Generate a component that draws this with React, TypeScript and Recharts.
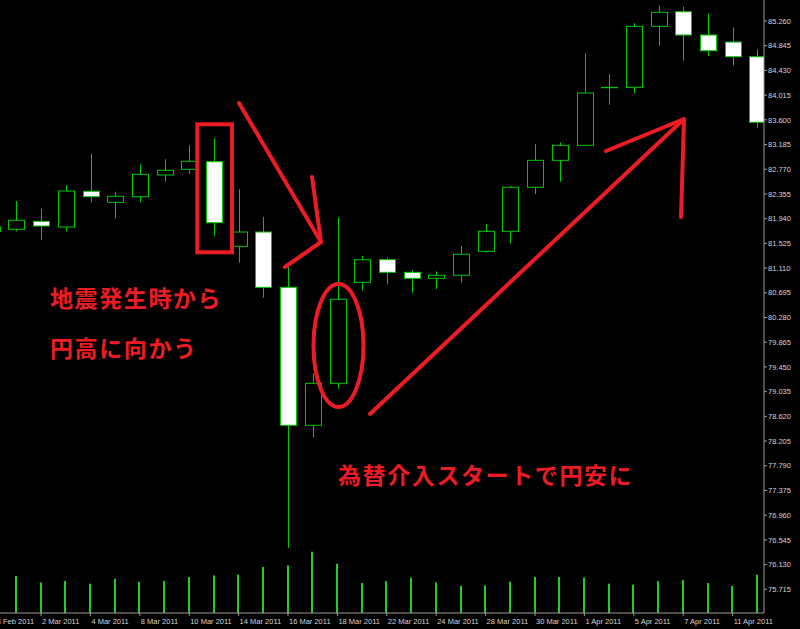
import { ComposedChart, Bar, XAxis, YAxis } from 'recharts';

// USD/JPY daily, 28 Feb 2011 - 12 Apr 2011 (MT4 style)
const dates = [
  '28 Feb 2011', '1 Mar 2011', '2 Mar 2011', '3 Mar 2011', '4 Mar 2011', '7 Mar 2011', '8 Mar 2011',
  '9 Mar 2011', '10 Mar 2011', '11 Mar 2011', '14 Mar 2011', '15 Mar 2011', '16 Mar 2011', '17 Mar 2011',
  '18 Mar 2011', '21 Mar 2011', '22 Mar 2011', '23 Mar 2011', '24 Mar 2011', '25 Mar 2011', '28 Mar 2011',
  '29 Mar 2011', '30 Mar 2011', '31 Mar 2011', '1 Apr 2011', '4 Apr 2011', '5 Apr 2011', '6 Apr 2011',
  '7 Apr 2011', '8 Apr 2011', '11 Apr 2011', '12 Apr 2011',
];
const opens = [
  81.73, 81.762, 81.896, 81.8, 82.4, 82.215, 82.309, 82.673, 82.769, 82.897, 81.476, 81.716, 80.787,
  78.47, 79.175, 80.871, 81.251, 81.039, 80.938, 80.989, 81.392, 81.728, 82.467, 82.92, 83.172, 84.14,
  84.146, 85.171, 85.416, 85.025, 84.907, 84.66,
];
const highs = [
  81.9, 82.237, 82.107, 82.506, 83.031, 82.393, 82.853, 82.937, 83.172, 83.29, 82.433, 81.968, 81.128,
  79.343, 81.963, 81.313, 81.291, 81.073, 81.056, 81.481, 81.851, 82.489, 83.194, 83.223, 84.718, 84.37,
  85.226, 85.524, 85.5, 85.389, 85.154, 84.785,
];
const lows = [
  81.6, 81.728, 81.582, 81.728, 82.208, 81.94, 82.208, 82.561, 82.695, 81.649, 81.201, 80.613, 76.409,
  78.268, 79.084, 80.73, 80.838, 80.697, 80.759, 80.865, 81.368, 81.526, 82.354, 82.561, 83.165, 83.854,
  84.046, 84.845, 84.593, 84.672, 84.516, 83.468,
];
const closes = [
  81.8, 81.913, 81.817, 82.405, 82.309, 82.316, 82.685, 82.752, 82.904, 81.872, 81.716, 80.787, 78.47,
  79.175, 80.586, 81.251, 81.039, 80.938, 80.989, 81.342, 81.728, 82.467, 82.92, 83.172, 84.051, 84.145,
  85.171, 85.406, 85.025, 84.761, 84.66, 83.559,
];
const volumes = [
  3400, 3700, 3060, 3200, 2930, 3430, 3130, 3200, 3600, 3760, 3830, 4600, 4760, 6130, 4930, 3000, 3200,
  3530, 3060, 2700, 2760, 3130, 3600, 3600, 3530, 2930, 2830, 3200, 3300, 3000, 2700, 3830,
];
const priceTicks = [
  75.715, 76.13, 76.545, 76.96, 77.375, 77.79, 78.205, 78.62, 79.035, 79.45, 79.865, 80.28, 80.695,
  81.11, 81.525, 81.94, 82.355, 82.77, 83.185, 83.6, 84.015, 84.43, 84.845, 85.26,
];
const dateTicks = [-1, 1, 3, 5, 7, 9, 11, 13, 15, 17, 19, 21, 23, 25, 27, 29];

const data = dates.map((date, i) => ({
  idx: i - 1,
  date,
  open: opens[i],
  high: highs[i],
  low: lows[i],
  close: closes[i],
  volume: volumes[i],
}));

const WICK = '#00c800';
const VOL = '#22cc22';
const AXIS = '#9a9a9a';
const LABEL = '#d4d4d4';
const RED = '#ed1c24';
const FONT = '"Liberation Sans", Arial, sans-serif';

function Candle(props: any) {
  const { x, y, width, height, payload } = props;
  const { open, close, high, low } = payload;
  const top = Math.min(y, y + height);
  const h = Math.abs(height);
  const range = high - low;
  const yOf = (p: number) => (range === 0 ? top : top + ((high - p) / range) * h);
  const cx = Math.round(x + width / 2) + 0.5;
  const bodyTop = yOf(Math.max(open, close));
  const bodyBot = yOf(Math.min(open, close));
  const bull = close >= open;
  const half = Math.floor(width / 2);
  return (
    <g>
      <line x1={cx} x2={cx} y1={top} y2={top + h} stroke={WICK} strokeWidth={1} />
      <rect
        x={cx - half}
        y={bodyTop}
        width={half * 2}
        height={Math.max(bodyBot - bodyTop, 0)}
        fill={bull ? '#000' : '#fff'}
        stroke={WICK}
        strokeWidth={1}
      />
    </g>
  );
}

function VolumeBar(props: any) {
  const { x, y, width, height } = props;
  const cx = Math.round(x + width / 2);
  return <rect x={cx - 1} y={y} width={2} height={height} fill={VOL} />;
}

function DateTick(props: any) {
  const { x, y, payload } = props;
  const label = dates[payload.value + 1];
  return (
    <text x={x + 1} y={y + 5} fill={LABEL} fontSize={7.5} fontFamily={FONT} dominantBaseline="central">
      {label}
    </text>
  );
}

export default function App() {
  return (
    <div style={{ position: 'absolute', left: 0, top: 0, width: 800, height: 629, background: '#000' }}>
      <ComposedChart width={800} height={629} data={data} margin={{ top: 0, right: 0, bottom: 0, left: 0 }}>
        <XAxis
          xAxisId="x"
          dataKey="idx"
          type="number"
          domain={[-0.66, 30.27]}
          allowDataOverflow
          ticks={dateTicks}
          interval={0}
          height={16}
          tickSize={3}
          tickMargin={0}
          stroke={AXIS}
          tick={<DateTick />}
        />
        <XAxis xAxisId="xv" dataKey="idx" type="number" domain={[-0.66, 30.27]} allowDataOverflow hide />
        <YAxis
          yAxisId="price"
          orientation="right"
          type="number"
          domain={[75.317, 85.613]}
          allowDataOverflow
          ticks={priceTicks}
          interval={0}
          width={36}
          tickSize={3}
          tickMargin={1}
          stroke={AXIS}
          tickFormatter={(v: number) => v.toFixed(3)}
          tick={{ fill: LABEL, fontSize: 7.5, fontFamily: FONT }}
        />
        <YAxis yAxisId="vol" type="number" domain={[0, 61300]} allowDataOverflow hide />
        <Bar
          xAxisId="xv"
          yAxisId="vol"
          dataKey="volume"
          barSize={2}
          shape={<VolumeBar />}
          isAnimationActive={false}
        />
        <Bar
          xAxisId="x"
          yAxisId="price"
          dataKey={(d: any) => [d.low, d.high]}
          barSize={17}
          shape={<Candle />}
          isAnimationActive={false}
        />
      </ComposedChart>
      <svg
        width={800}
        height={629}
        style={{ position: 'absolute', left: 0, top: 0, pointerEvents: 'none' }}
      >
        <g stroke={RED} strokeWidth={4} fill="none" strokeLinecap="round" strokeLinejoin="round">
          <rect x={197.3} y={124.3} width={34.7} height={128} strokeLinecap="butt" strokeLinejoin="miter" />
          <polyline points="239,103 321,242" />
          <polyline points="312,177 321,242 285,267" />
          <ellipse cx={338.5} cy={345.5} rx={25} ry={61.5} />
          <polyline points="370,414 684,119" />
          <polyline points="606,151 684,119 681,217" />
        </g>
        <g
          fill={RED}
          fontFamily='"Noto Sans CJK JP", sans-serif'
          fontWeight={700}
          fontSize={23}
          letterSpacing={1.6}
          dominantBaseline="central"
        >
          <text x={50} y={297}>地震発生時から</text>
          <text x={50} y={346.5}>円高に向かう</text>
          <text x={338} y={473.5}>為替介入スタートで円安に</text>
        </g>
      </svg>
    </div>
  );
}
